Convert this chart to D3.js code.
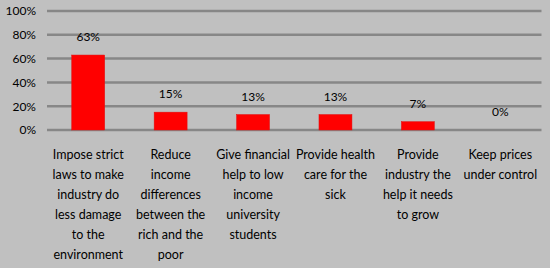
<!DOCTYPE html>
<html>
<head>
<meta charset="utf-8">
<script src="https://cdn.jsdelivr.net/npm/d3@7"></script>
<style>
  html, body { margin: 0; padding: 0; background: #c0c0c0; }
  svg { display: block; font-family: Lato, "Open Sans", sans-serif; }
</style>
</head>
<body>
<svg id="chart"></svg>
<script>
// categories, one line per row of the wrapped label
const categories = [
  "Impose strict\nlaws to make\nindustry do\nless damage\nto the\nenvironment",
  "Reduce\nincome\ndifferences\nbetween the\nrich and the\npoor",
  "Give financial\nhelp to low\nincome\nuniversity\nstudents",
  "Provide health\ncare for the\nsick",
  "Provide\nindustry the\nhelp it needs\nto grow",
  "Keep prices\nunder control"
];
const values = [63, 15, 13, 13, 7, 0];
const yTicks = [0, 20, 40, 60, 80, 100];

const width = 550;
const height = 268;
const margin = { top: 11, right: 8.5, bottom: 138, left: 47 };

const svg = d3.select("#chart")
  .attr("width", width)
  .attr("height", height);

svg.append("rect")
  .attr("width", width)
  .attr("height", height)
  .attr("fill", "#c0c0c0");

const x = d3.scaleBand()
  .domain(categories)
  .range([margin.left, width - margin.right])
  .paddingInner(0.6)
  .paddingOuter(0.3);

const y = d3.scaleLinear()
  .domain([0, 100])
  .range([height - margin.bottom, margin.top]);

// gridlines
svg.append("g")
  .selectAll("line")
  .data(yTicks)
  .join("line")
  .attr("x1", margin.left)
  .attr("x2", width - margin.right)
  .attr("y1", d => y(d))
  .attr("y2", d => y(d))
  .attr("stroke", "#878787")
  .attr("stroke-width", 2.5);

// y axis labels
const yAxis = d3.axisLeft(y)
  .tickValues(yTicks)
  .tickFormat(d => d + "%")
  .tickSize(0)
  .tickPadding(11);

svg.append("g")
  .attr("transform", `translate(${margin.left},0)`)
  .call(yAxis)
  .call(g => g.select(".domain").remove())
  .call(g => g.selectAll("text")
    .attr("font-family", "Lato, sans-serif")
    .attr("font-size", 12)
    .attr("fill", "#000"));

// bars
svg.append("g")
  .selectAll("rect")
  .data(values)
  .join("rect")
  .attr("x", (d, i) => x(categories[i]))
  .attr("width", x.bandwidth())
  .attr("y", d => y(d))
  .attr("height", d => y(0) - y(d))
  .attr("fill", "#ff0000")
  .attr("stroke", "#e01010")
  .attr("stroke-width", 0.5);

// value labels
svg.append("g")
  .selectAll("text")
  .data(values)
  .join("text")
  .attr("x", (d, i) => x(categories[i]) + x.bandwidth() / 2)
  .attr("y", d => y(d) - 14)
  .attr("text-anchor", "middle")
  .attr("font-size", 12)
  .attr("fill", "#000")
  .text(d => d + "%");

// category labels
const catG = svg.append("g")
  .selectAll("text")
  .data(categories)
  .join("text")
  .attr("x", d => x(d) + x.bandwidth() / 2)
  .attr("y", 159)
  .attr("text-anchor", "middle")
  .attr("font-size", 12.5)
  .attr("fill", "#000");

catG.selectAll("tspan")
  .data(d => d.split("\n"))
  .join("tspan")
  .attr("x", function () { return d3.select(this.parentNode).attr("x"); })
  .attr("dy", (d, i) => i === 0 ? 0 : 20)
  .text(d => d);
</script>
</body>
</html>
